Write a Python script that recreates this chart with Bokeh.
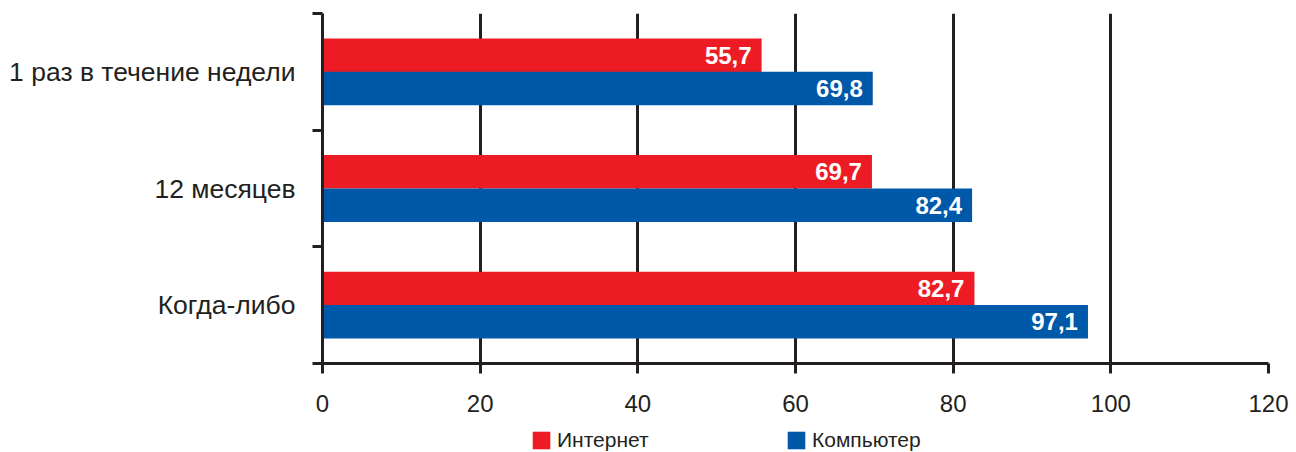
from bokeh.plotting import figure
from bokeh.layouts import column
from bokeh.models import (ColumnDataSource, Range1d, FixedTicker, Legend, LegendItem)
from bokeh.core.properties import value
from bokeh.embed import file_html
from bokeh.resources import INLINE

categories = ["1 раз в течение недели", "12 месяцев", "Когда-либо"]
internet = [55.7, 69.7, 82.7]
computer = [69.8, 82.4, 97.1]
series_names = ["Интернет", "Компьютер"]
x_ticks = [0, 20, 40, 60, 80, 100, 120]

RED = "#ED1C24"
BLUE = "#0058A8"
DARK = "#231F20"
FONT = "Liberation Sans"

n = len(categories)
centers = [n - i - 0.5 for i in range(n)]
fmt = lambda v: f"{v:.1f}".replace(".", ",")

src_i = ColumnDataSource(dict(y=[c + 0.143 for c in centers], x=internet,
                              lab=[fmt(v) for v in internet]))
src_c = ColumnDataSource(dict(y=[c - 0.143 for c in centers], x=computer,
                              lab=[fmt(v) for v in computer]))

p = figure(width=1296, height=424, output_backend="svg", toolbar_location=None,
           x_range=Range1d(0, 120), y_range=Range1d(0, n),
           min_border_left=322, min_border_right=28, min_border_top=13,
           min_border_bottom=61)
p.outline_line_color = None
p.background_fill_color = "white"

r1 = p.hbar(y="y", right="x", left=0, height=0.287, source=src_i,
            fill_color=RED, line_color=None)
r2 = p.hbar(y="y", right="x", left=0, height=0.287, source=src_c,
            fill_color=BLUE, line_color=None)

for s in (src_i, src_c):
    p.text(x="x", y="y", text="lab", source=s, x_offset=-10,
           text_align="right", text_baseline="middle", text_color="white",
           text_font=value(FONT), text_font_style="bold",
           text_font_size="24px")

# grid
p.ygrid.grid_line_color = None
p.xgrid.ticker = FixedTicker(ticks=x_ticks)
p.xgrid.grid_line_color = DARK
p.xgrid.grid_line_width = 3
p.xgrid.grid_line_alpha = 1

# x axis
xa = p.xaxis[0]
xa.ticker = FixedTicker(ticks=x_ticks)
xa.axis_line_color = DARK
xa.axis_line_width = 3
xa.major_tick_line_color = DARK
xa.major_tick_line_width = 3
xa.major_tick_out = 10
xa.major_tick_in = 0
xa.minor_tick_line_color = None
xa.major_label_standoff = 21
xa.major_label_text_font = FONT
xa.major_label_text_font_size = "24px"
xa.major_label_text_color = DARK

# y axis
ya = p.yaxis[0]
ya.ticker = FixedTicker(ticks=centers, minor_ticks=list(range(n + 1)))
ya.major_label_overrides = {c: categories[i] for i, c in enumerate(centers)}
ya.axis_line_color = DARK
ya.axis_line_width = 3
ya.major_tick_line_color = None
ya.major_tick_out = 0
ya.major_tick_in = 0
ya.minor_tick_line_color = DARK
ya.minor_tick_line_width = 3
ya.minor_tick_out = 10
ya.minor_tick_in = 0
ya.major_label_standoff = 17
ya.major_label_text_font = FONT
ya.major_label_text_font_size = "26.5px"
ya.major_label_text_color = DARK

# legend strip below the chart (its renderers lie outside its visible ranges)
q = figure(width=1296, height=28, output_backend="svg", toolbar_location=None,
           x_range=Range1d(0, 120), y_range=Range1d(100, 101),
           x_axis_location=None, y_axis_location=None,
           min_border_left=0, min_border_right=0, min_border_top=0,
           min_border_bottom=0)
q.outline_line_color = None
q.xgrid.grid_line_color = None
q.ygrid.grid_line_color = None
l1 = q.hbar(y="y", right="x", left=0, height=0.287, source=src_i,
            fill_color=RED, line_color=None)
l2 = q.hbar(y="y", right="x", left=0, height=0.287, source=src_c,
            fill_color=BLUE, line_color=None)

lg = Legend(items=[LegendItem(label=series_names[0], renderers=[l1]),
                   LegendItem(label=series_names[1], renderers=[l2])],
            location=(208, 0), orientation="horizontal",
            padding=0, margin=0, spacing=0, border_line_color=None,
            background_fill_alpha=0, glyph_width=22, glyph_height=22,
            label_standoff=5, label_width=228, label_height=18,
            label_text_font=FONT, label_text_font_size="21px",
            label_text_color=DARK)
q.add_layout(lg, "center")

layout = column(p, q, spacing=0)
open("out.html", "w").write(file_html(layout, INLINE))
